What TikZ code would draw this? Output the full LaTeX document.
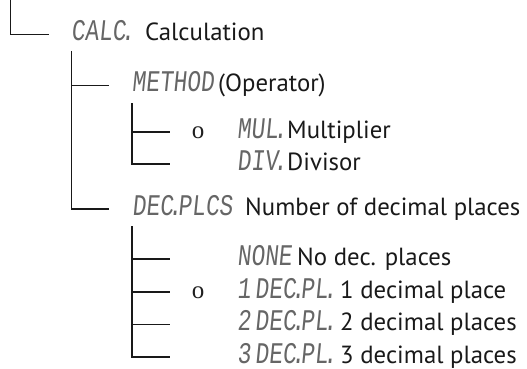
\documentclass[tikz,border=0pt]{standalone}
\usepackage{fontspec}
\setmainfont{PT Sans}
\newfontfamily\lcdfont[FakeSlant=0.1,FakeStretch=0.76,WordSpace=0.3]{Liberation Mono}
\newfontfamily\bulfont{Liberation Serif}
\newcommand\ld{\kern-5pt.\kern-4pt}
\begin{document}
\begin{tikzpicture}[x=1pt,y=-1pt,
  tree/.style={line width=1.1pt,draw=black!90},
  lcdtxt/.style={anchor=base west,inner sep=0pt,text=black!60,font=\lcdfont\fontsize{30}{30}\selectfont},
  desc/.style={anchor=base west,inner sep=0pt,text=black!90,font=\fontsize{24.8}{28}\selectfont},
  bul/.style={anchor=base,inner sep=0pt,text=black!88,font=\bulfont\fontsize{25}{25}\selectfont}]
\useasboundingbox (0,0) rectangle (527,369);
% level 0
\coordinate (r0) at (10.7,0);
\coordinate (e0) at (49,34.3);
\draw[tree] (r0) |- (e0);
% level 1
\coordinate (r1) at (71.3,51);
\coordinate (e1a) at (109,85.7);
\coordinate (e1b) at (109,209);
\draw[tree] (r1) |- (e1b);
\draw[tree] (r1 |- e1a) -- (e1a);
% level 2 (method)
\coordinate (r2) at (132,103);
\coordinate (e2a) at (170,132);
\coordinate (e2b) at (170,164);
\draw[tree] (r2) |- (e2b);
\draw[tree] (r2 |- e2a) -- (e2a);
% level 2 (decimal places)
\coordinate (r3) at (132,226);
\coordinate (e3a) at (170,259);
\coordinate (e3b) at (170,292);
\coordinate (e3c) at (170,324.5);
\coordinate (e3d) at (170,357);
\draw[tree] (r3) |- (e3d);
\draw[tree] (r3 |- e3a) -- (e3a);
\draw[tree] (r3 |- e3b) -- (e3b);
\draw[tree] (r3 |- e3c) -- (e3c);
% texts
\node[lcdtxt] (calc) at (71,40.5) {CALC\ld};
\node[desc] (calcd) at (145,40.5) {Calculation};
\node[lcdtxt] (meth) at (131.7,91.5) {METHOD};
\node[desc] (methd) at (218,91.5) {(Operator)};
\node[bul] (o1) at (198,138) {o};
\node[lcdtxt] (mul) at (237,138) {MUL\ld};
\node[desc] (muld) at (287,138) {Multiplier};
\node[lcdtxt] (div) at (237,170) {DIV\ld};
\node[desc] (divd) at (287,170) {Divisor};
\node[lcdtxt] (dec) at (132,215) {DEC\ld PLCS};
\node[desc] (decd) at (245,215) {Number of decimal places};
\node[lcdtxt] (none) at (237,265) {NONE};
\node[desc] (noned) at (297,265) {No dec. places};
\node[bul] (o2) at (198,298) {o};
\node[lcdtxt] (d1) at (237,298) {1 DEC\ld PL\ld};
\node[desc] (d1d) at (340,298) {1 decimal place};
\node[lcdtxt] (d2) at (237,330.5) {2 DEC\ld PL\ld};
\node[desc] (d2d) at (340,330.5) {2 decimal places};
\node[lcdtxt] (d3) at (237,363) {3 DEC\ld PL\ld};
\node[desc] (d3d) at (340,363) {3 decimal places};
\end{tikzpicture}
\end{document}
